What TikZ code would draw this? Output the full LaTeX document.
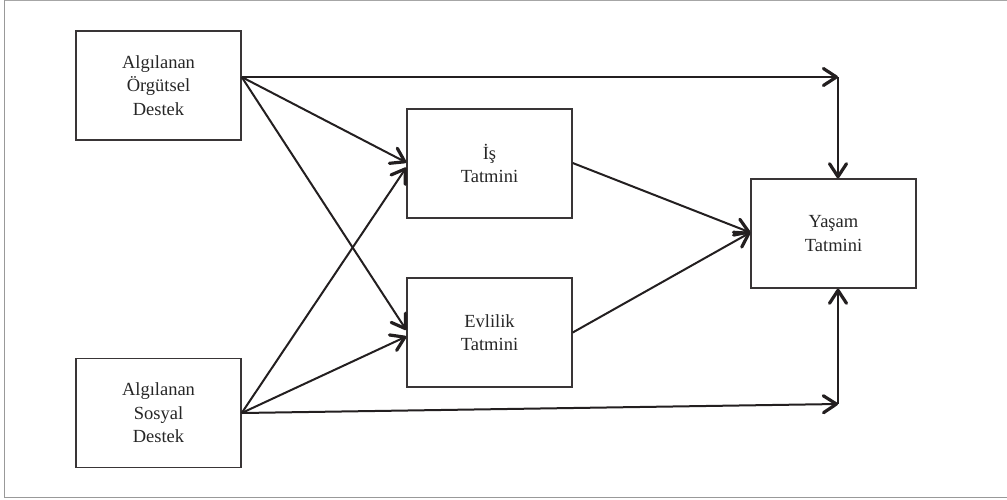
\documentclass[tikz,border=0pt]{standalone}
\usepackage{fontspec}
\setmainfont{Liberation Serif}
\usetikzlibrary{arrows.meta}
\definecolor{ink}{HTML}{231F20}
\definecolor{txt}{HTML}{262626}
\begin{document}
\begin{tikzpicture}[x=1pt,y=-1pt,
  box/.style={draw=ink!90, line width=1.4pt, minimum width=165pt, minimum height=109pt,
    inner sep=0pt, align=center, text=txt,
    font=\fontsize{18.5}{23.5}\selectfont},
  conn/.style={draw=ink, line width=2pt},
  arr/.style={conn, -{Straight Barb[length=13pt,width=17pt,line width=3.2pt,round]}}]
\useasboundingbox (0,0) rectangle (1007,499);
% frame
\draw[gray!70, line width=1.4pt] (4.5,0.7) -- (1007,0.7);
\draw[gray!120!black, line width=1.6pt] (4.5,0) -- (4.5,497.3) -- (1007,497.3);
% nodes
\node[box] (A) at (158.5,85.5) {Algılanan\\Örgütsel\\Destek};
\node[box] (S) at (158.5,413) {Algılanan\\Sosyal\\Destek};
\node[box] (I) at (489.5,163.5) {İş\\Tatmini};
\node[box] (E) at (489.5,332.5) {Evlilik\\Tatmini};
\node[box] (Y) at (833.5,233.5) {Yaşam\\Tatmini};
\coordinate (tr) at (838,77);
\coordinate (br) at (838,404);
% connectors
\draw[arr] ([yshift=8.5pt]A.east) -- (tr);
\draw[arr] (tr) -- (tr |- Y.north);
\draw[arr] (S.east) -- (br);
\draw[arr] (br) -- (br |- Y.south);
\draw[arr] ([yshift=8.5pt]A.east) -- ([yshift=1pt]I.west);
\draw[arr] ([yshift=8.5pt]A.east) -- ([yshift=2.5pt]E.west);
\draw[arr] (S.east) -- ([yshift=-4pt]I.west);
\draw[arr] (S.east) -- ([yshift=-4pt]E.west);
\draw[arr] ([yshift=0.5pt]I.east) -- ([yshift=1pt]Y.west);
\draw[arr] (E.east) -- ([yshift=1pt]Y.west);
\end{tikzpicture}
\end{document}
